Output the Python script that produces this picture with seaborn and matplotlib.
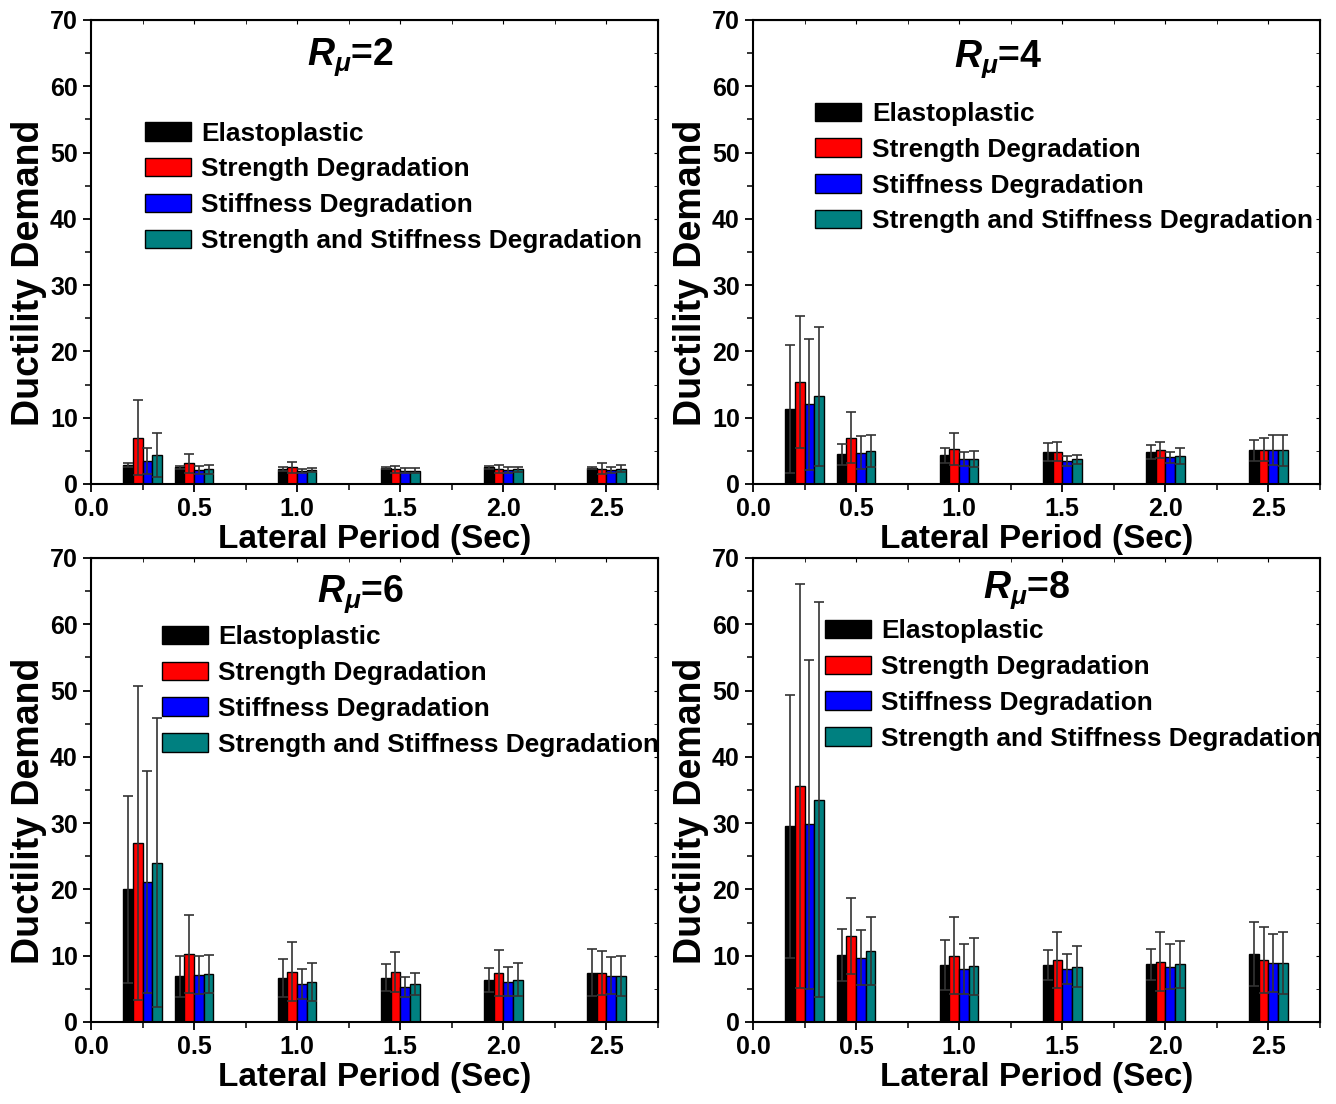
import numpy as np
import pandas as pd
import matplotlib
matplotlib.use('Agg')
import matplotlib.pyplot as plt
from matplotlib.ticker import MultipleLocator, FormatStrFormatter
import seaborn as sns

periods = [0.25, 0.5, 1.0, 1.5, 2.0, 2.5]
models = ['Elastoplastic', 'Strength Degradation', 'Stiffness Degradation',
          'Strength and Stiffness Degradation']
colors = ['#000000', '#ff0000', '#0000ff', '#008080']
r_values = [2, 4, 6, 8]

# mean ductility demand, rows = models (same order as above), cols = periods
r2_mean = [[2.8, 2.5, 2.3, 2.4, 2.5, 2.4],
           [7.0, 3.1, 2.5, 2.2, 2.3, 2.3],
           [3.5, 2.1, 2.0, 2.0, 2.1, 2.1],
           [4.4, 2.2, 2.1, 2.0, 2.2, 2.3]]
r2_sd = [[0.3, 0.2, 0.3, 0.2, 0.2, 0.1],
         [5.7, 1.5, 0.8, 0.5, 0.6, 0.8],
         [2.0, 0.6, 0.3, 0.4, 0.5, 0.4],
         [3.3, 0.7, 0.3, 0.4, 0.4, 0.5]]

r4_mean = [[11.3, 4.5, 4.3, 4.8, 4.8, 5.1],
           [15.4, 7.0, 5.3, 4.9, 5.1, 5.2],
           [12.0, 4.7, 3.8, 3.5, 4.0, 5.1],
           [13.2, 5.0, 3.8, 3.7, 4.2, 5.1]]
r4_sd = [[9.6, 1.6, 1.2, 1.35, 1.1, 1.6],
         [9.9, 3.8, 2.4, 1.45, 1.2, 1.7],
         [9.9, 2.5, 1.1, 0.75, 0.9, 2.25],
         [10.5, 2.4, 1.2, 0.7, 1.2, 2.35]]

r6_mean = [[20.0, 6.9, 6.6, 6.7, 6.35, 7.45],
           [27.0, 10.2, 7.6, 7.5, 7.4, 7.35],
           [21.1, 7.1, 5.7, 5.3, 6.1, 7.0],
           [24.0, 7.2, 6.0, 5.7, 6.35, 6.9]]
r6_sd = [[14.1, 3.1, 2.9, 2.1, 1.85, 3.5],
         [23.7, 5.9, 4.5, 3.0, 3.5, 3.3],
         [16.7, 2.9, 2.3, 1.5, 2.2, 2.8],
         [21.8, 2.9, 2.9, 1.65, 2.5, 3.0]]

r8_mean = [[29.5, 10.1, 8.55, 8.6, 8.7, 10.25],
           [35.6, 13.0, 10.0, 9.35, 9.1, 9.35],
           [29.8, 9.7, 7.95, 7.95, 8.35, 8.85],
           [33.5, 10.7, 8.4, 8.35, 8.7, 8.85]]
r8_sd = [[19.9, 3.9, 3.8, 2.3, 2.35, 4.85],
         [30.4, 5.7, 5.8, 4.2, 4.4, 4.95],
         [24.8, 4.1, 3.8, 2.25, 3.45, 4.35],
         [29.8, 5.1, 4.3, 3.1, 3.5, 4.65]]

panels = [(r2_mean, r2_sd), (r4_mean, r4_sd), (r6_mean, r6_sd), (r8_mean, r8_sd)]

sns.set_style('ticks')
plt.rcParams['font.family'] = ['Liberation Sans', 'DejaVu Sans']
plt.rcParams['font.weight'] = 'bold'
plt.rcParams['text.color'] = 'black'
plt.rcParams['axes.labelcolor'] = 'black'
plt.rcParams['xtick.color'] = 'black'
plt.rcParams['ytick.color'] = 'black'
plt.rcParams['mathtext.fontset'] = 'custom'
plt.rcParams['mathtext.it'] = 'Liberation Sans:italic:bold'
plt.rcParams['mathtext.rm'] = 'Liberation Sans:bold'

fig = plt.figure(figsize=(13.36, 11.04), dpi=100)
axes_pos = [(0.0681, 0.5616), (0.5636, 0.5616), (0.0681, 0.0743), (0.5636, 0.0743)]
legend_pos = [(0.095, 0.781), (0.11, 0.8235), (0.125, 0.855), (0.127, 0.868)]
title_pos = [(0.457, 0.903), (0.432, 0.899), (0.476, 0.905), (0.483, 0.914)]

for k, (means, sds) in enumerate(panels):
    ax = fig.add_axes([axes_pos[k][0], axes_pos[k][1], 0.4244, 0.4203])
    rows = []
    for i, m in enumerate(models):
        for j, p in enumerate(periods):
            rows.append((p, m, means[i][j], sds[i][j]))
    df = pd.DataFrame(rows, columns=['period', 'model', 'mu', 'sd'])

    sns.barplot(data=df, x='period', y='mu', hue='model', hue_order=models,
                palette=colors, saturation=1, native_scale=True, width=0.75,
                errorbar=None, edgecolor='black', linewidth=1, ax=ax, legend=False)
    bars = list(ax.containers)

    # error bars (mean +/- sd) on top of the bars
    for i, cont in enumerate(bars):
        sub = df[df.model == models[i]].sort_values('period')
        xs = sorted(b.get_x() + b.get_width() / 2 for b in cont.patches)
        ax.errorbar(xs, sub.mu, yerr=sub.sd, fmt='none', ecolor='0.2',
                    elinewidth=1.2, capsize=3.5, capthick=1.2, zorder=5)

    ax.set_xlim(0, 2.75)
    ax.set_ylim(0, 70)
    ax.set_xticks(np.arange(0, 2.51, 0.5))
    ax.xaxis.set_major_formatter(FormatStrFormatter('%.1f'))
    ax.xaxis.set_minor_locator(MultipleLocator(0.25))
    ax.yaxis.set_major_locator(MultipleLocator(10))
    ax.yaxis.set_minor_locator(MultipleLocator(5))
    ax.tick_params(which='major', direction='out', length=6, width=1.3,
                   labelsize=18, color='black')
    ax.tick_params(which='minor', direction='out', length=4, width=1.1, color='black')
    for lab in ax.get_xticklabels() + ax.get_yticklabels():
        lab.set_fontweight('bold')
    for s in ax.spines.values():
        s.set_visible(True)
        s.set_linewidth(1.5)
        s.set_color('black')

    # inward ticks on top and right
    top = ax.secondary_xaxis('top')
    top.set_xticks(np.arange(0, 2.51, 0.5))
    top.xaxis.set_minor_locator(MultipleLocator(0.25))
    top.tick_params(which='both', direction='in', length=3, labeltop=False)
    right = ax.secondary_yaxis('right')
    right.yaxis.set_major_locator(MultipleLocator(10))
    right.yaxis.set_minor_locator(MultipleLocator(5))
    right.tick_params(which='both', direction='in', length=3, labelright=False)

    ax.set_xlabel('Lateral Period (Sec)', fontsize=24, fontweight='bold', labelpad=2)
    ax.set_ylabel('Ductility Demand', fontsize=27, fontweight='bold')
    ax.yaxis.set_label_coords(-0.077, 0.455)

    ax.text(title_pos[k][0], title_pos[k][1], r'$R_{\mu}$=' + str(r_values[k]),
            transform=ax.transAxes, ha='center', va='baseline', fontsize=27,
            fontweight='bold')

    ax.legend(bars, models, loc='upper left', bbox_to_anchor=legend_pos[k],
              frameon=False, prop=dict(weight='bold', size=18.9),
              handlelength=1.75, handleheight=0.7, handletextpad=0.4,
              labelspacing=0.45, borderaxespad=0, borderpad=0)

fig.savefig('out.png', dpi=100)
